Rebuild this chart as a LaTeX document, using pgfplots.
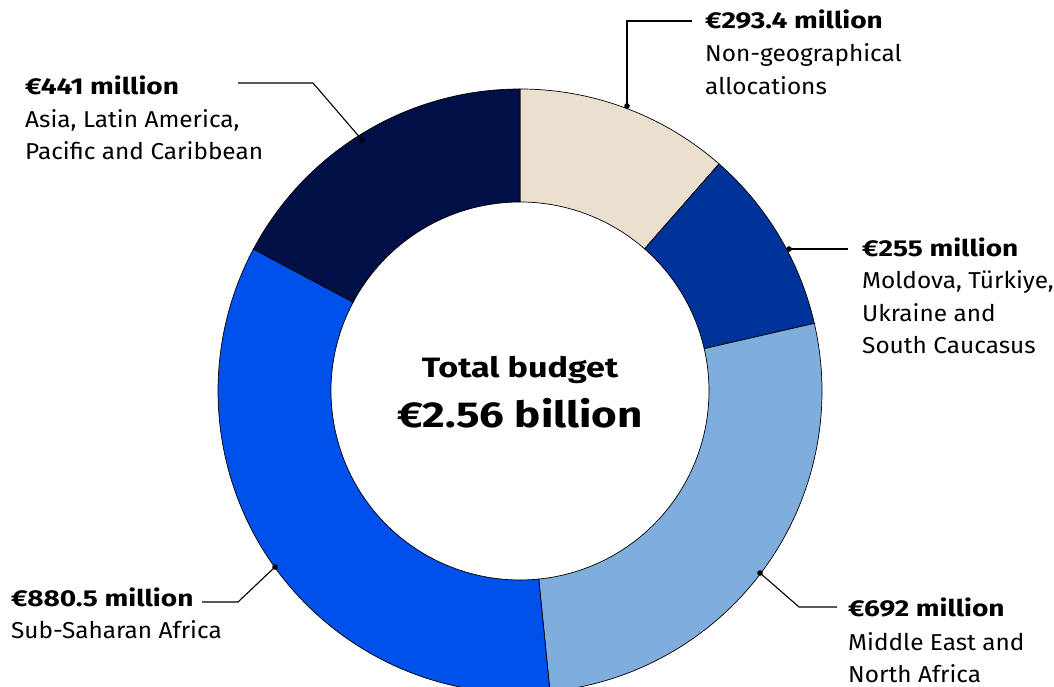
\documentclass[border=0pt]{standalone}
\usepackage{fontspec}
\setmainfont{Fira Sans}[FakeStretch=1.06]
\newfontfamily\boldf{Fira Sans}[FakeStretch=1.22]
\usepackage{pgfplots}
\usepackage{pgfplotstable}
\pgfplotsset{compat=1.18}
\definecolor{cNon}{HTML}{EBDFD0}
\definecolor{cMol}{HTML}{003399}
\definecolor{cMen}{HTML}{80AEDC}
\definecolor{cSsa}{HTML}{0050EC}
\definecolor{cAsi}{HTML}{000F45}
\pgfplotstableread{
value
293.4
255
692
880.5
441
}\budget
\newcommand\sector[3]{%
  \fill[#3, draw=black, line width=0.7pt]
    (axis cs:{520+302*cos(#1)},{296+302*sin(#1)})
    arc[start angle=#1, end angle=#2, radius=302pt]
    -- (axis cs:{520+189*cos(#2)},{296+189*sin(#2)})
    arc[start angle=#2, end angle=#1, radius=189pt] -- cycle;}
\newcommand\lab[1]{\fontsize{23}{28}\selectfont #1}
\newcommand\blab[1]{\fontsize{23}{28}\selectfont\boldf\bfseries #1}
\begin{document}
\begin{tikzpicture}[x=1pt,y=1pt]
\pgfplotstablegetelem{0}{value}\of\budget \let\vA\pgfplotsretval
\pgfplotstablegetelem{1}{value}\of\budget \let\vB\pgfplotsretval
\pgfplotstablegetelem{2}{value}\of\budget \let\vC\pgfplotsretval
\pgfplotstablegetelem{3}{value}\of\budget \let\vD\pgfplotsretval
\pgfplotstablegetelem{4}{value}\of\budget \let\vE\pgfplotsretval
\pgfmathsetmacro\total{(\vA+\vB+\vC+\vD+\vE)/100}
\pgfmathsetmacro\aA{90}
\pgfmathsetmacro\aB{\aA-3.6*(\vA/\total)}
\pgfmathsetmacro\aC{\aB-3.6*(\vB/\total)}
\pgfmathsetmacro\aD{\aC-3.6*(\vC/\total)}
\pgfmathsetmacro\aE{\aD-3.6*(\vD/\total)}
\pgfmathsetmacro\aF{-270}
\begin{axis}[x=1pt, y=1pt, disabledatascaling, xmin=0, xmax=1054, ymin=0, ymax=687,
  hide axis, clip=true, at={(0,0)}, anchor=south west]
\sector{\aA}{\aB}{cNon}
\sector{\aB}{\aC}{cMol}
\sector{\aC}{\aD}{cMen}
\sector{\aD}{\aE}{cSsa}
\sector{\aE}{\aF}{cAsi}
\end{axis}
% leader lines
\begin{scope}[line width=1.1pt]
\draw (627,581) -- (627,666) -- (692,666); \fill (627,581) circle[radius=2.8pt];
\draw (362,547) -- (313,604) -- (238,604); \fill (362,547) circle[radius=2.8pt];
\draw (789,438) -- (848,438); \fill (789,438) circle[radius=2.8pt];
\draw (760,114) -- (799,80) -- (837,80); \fill (760,114) circle[radius=2.8pt];
\draw (275,120) -- (238,85) -- (202,85); \fill (275,120) circle[radius=2.8pt];
\end{scope}
% labels
\node[anchor=base west, inner sep=0] at (705,658) {\blab{€293.4 million}};
\node[anchor=base west, inner sep=0] at (705,625) {\lab{Non-geographical}};
\node[anchor=base west, inner sep=0] at (705,592) {\lab{allocations}};
\node[anchor=base west, inner sep=0] at (25,592) {\blab{€441 million}};
\node[anchor=base west, inner sep=0] at (25,559) {\lab{Asia, Latin America,}};
\node[anchor=base west, inner sep=0] at (25,527) {\lab{Pacific and Caribbean}};
\node[anchor=base west, inner sep=0] at (862,430) {\blab{€255 million}};
\node[anchor=base west, inner sep=0] at (862,398) {\lab{Moldova, Türkiye,}};
\node[anchor=base west, inner sep=0] at (862,365) {\lab{Ukraine and}};
\node[anchor=base west, inner sep=0] at (862,333) {\lab{South Caucasus}};
\node[anchor=base west, inner sep=0] at (848,70) {\blab{€692 million}};
\node[anchor=base west, inner sep=0] at (848,36) {\lab{Middle East and}};
\node[anchor=base west, inner sep=0] at (848,4) {\lab{North Africa}};
\node[anchor=base west, inner sep=0] at (11,80) {\blab{€880.5 million}};
\node[anchor=base west, inner sep=0] at (11,48) {\lab{Sub-Saharan Africa}};
\node[anchor=base, inner sep=0] at (520,309) {\fontsize{28}{32}\selectfont\boldf\bfseries Total budget};
\node[anchor=base, inner sep=0] at (520,259) {\fontsize{36}{40}\selectfont\boldf\bfseries €2.56 billion};
\pgfresetboundingbox
\useasboundingbox (0,0) rectangle (1054,687);
\end{tikzpicture}
\end{document}
